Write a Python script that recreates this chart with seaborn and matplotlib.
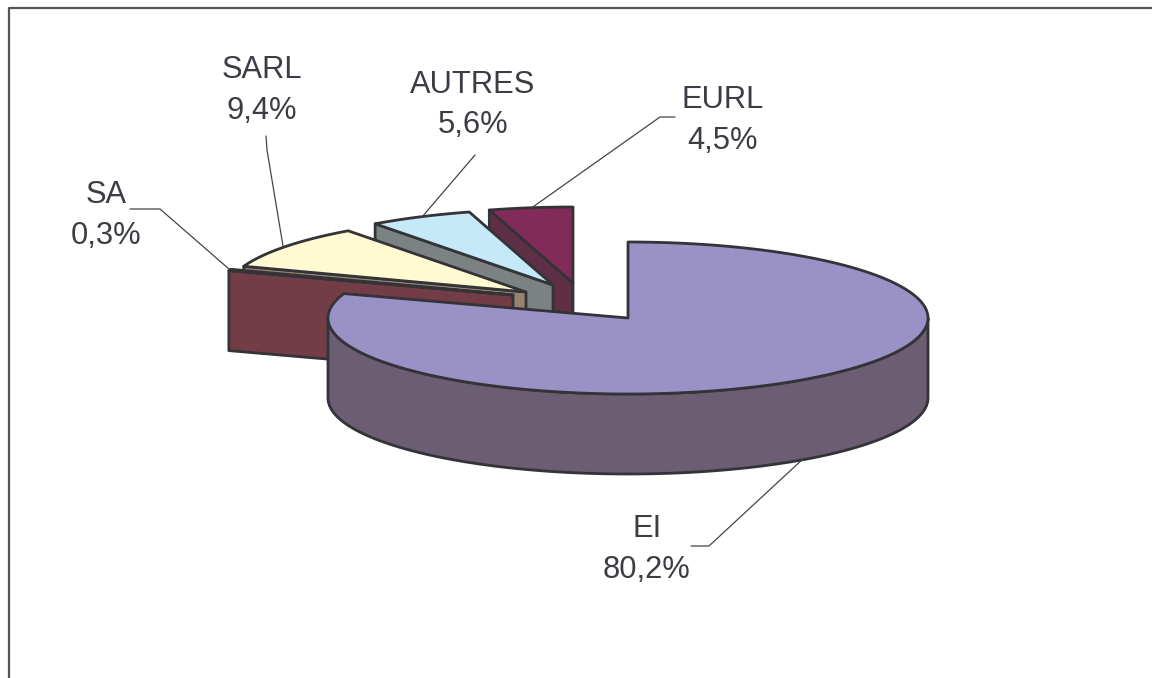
import numpy as np
import matplotlib
matplotlib.use("Agg")
import matplotlib.pyplot as plt
import seaborn as sns

# --- data ---
categories = ["EI", "SA", "SARL", "AUTRES", "EURL"]
shares = [80.2, 0.3, 9.4, 5.6, 4.5]
value_labels = ["80,2%", "0,3%", "9,4%", "5,6%", "4,5%"]
top_colors = ["#9A92C6", "#8A3A48", "#FFFAD2", "#C6E9FA", "#832B58"]
wall_colors = ["#6B5D72", "#723D46", "#96846F", "#7C8282", "#5F2F45"]

# --- layout (pixels) ---
W, H = 1152, 678
RX, RY, DEPTH = 300, 76, 80
centers = {"EI": (628, 318), "SA": (513, 295), "SARL": (526, 292),
           "AUTRES": (553, 285), "EURL": (573, 283)}
label_pos = {"EI": (647, 549.5), "SA": (106, 215.5), "SARL": (262, 90.5),
             "AUTRES": (473, 105), "EURL": (723, 120.5)}
leaders = {"EI": [(691, 546), (709, 546), (804, 458)],
           "SA": [(130, 209), (160, 209), (229, 269)],
           "SARL": [(266, 136), (267, 150), (283, 246)],
           "AUTRES": [(475, 155), (422, 217)],
           "EURL": [(675, 117), (660, 117), (530, 209)]}
EDGE = "#333338"
TEXT = "#3C3C44"

sns.set_theme(style="white")
plt.rcParams["font.family"] = ["Liberation Sans", "DejaVu Sans"]
fig = plt.figure(figsize=(W / 100, H / 100), dpi=100)
ax = fig.add_axes([0, 0, 1, 1])
ax.set_xlim(0, W)
ax.set_ylim(H, 0)
ax.axis("off")

# chart frame: only the top and left edges fall inside the picture
ax.plot([8.5, 8.5, 1160], [700, 8, 8], color="#555555", lw=1.6)


def rim(c, t0, t1, n=200):
    t = np.radians(np.linspace(t0, t1, n))
    return c[0] + RX * np.sin(t), c[1] - RY * np.cos(t)


def poly(x, y, color, z):
    ax.fill(x, y, facecolor=color, edgecolor=EDGE, lw=2, joinstyle="round", zorder=z)


edges = np.concatenate([[0], np.cumsum(shares)]) * 3.6
edges[-1] = 360

# slices from back to front
order = ["EURL", "AUTRES", "SARL", "SA", "EI"]
for z, name in enumerate(order):
    i = categories.index(name)
    c = centers[name]
    t0, t1 = edges[i], edges[i + 1]
    base = 10 * (z + 1)
    xr, yr = rim(c, t0, t1)
    if name == "EI":
        # outer wall of the visible front half
        xa, ya = rim(c, 90, 270)
        xa_w = np.concatenate([xa, xa[::-1]])
        ya_w = np.concatenate([ya, ya[::-1] + DEPTH])
        poly(xa_w, ya_w, wall_colors[i], base)
    else:
        # cut face at the slice's leading edge
        px = [xr[0], c[0], c[0], xr[0]]
        py = [yr[0], c[1], c[1] + DEPTH, yr[0] + DEPTH]
        poly(px, py, wall_colors[i], base)
    poly(np.r_[c[0], xr], np.r_[c[1], yr], top_colors[i], base + 1)

# leaders and labels
for i, name in enumerate(categories):
    lx, ly = zip(*leaders[name])
    ax.plot(lx, ly, color="#444444", lw=0.9, zorder=200)
    x, y = label_pos[name]
    ax.text(x, y, f"{name}\n{value_labels[i]}", ha="center", va="center",
            fontsize=22.2, color=TEXT, linespacing=1.45, zorder=201)

fig.savefig("out.png", dpi=100, facecolor="white")
